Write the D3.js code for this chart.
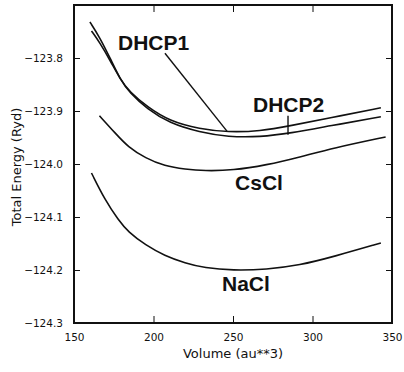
<!DOCTYPE html>
<html>
<head>
<meta charset="utf-8">
<script src="https://cdn.jsdelivr.net/npm/d3@7"></script>
<style>
  body { margin: 0; background: #fff; }
  .axis text { font-family: "DejaVu Sans", sans-serif; fill: #111; }
  .axis line, .axis path { stroke: #111; }
</style>
</head>
<body>
<div id="chart"></div>
<script>
// Curve data: volume (au**3) and total energy (Ryd)
const volDHCP1 = [161, 166, 173, 179, 185, 196, 210, 229, 247, 267, 286, 311, 343];
const engDHCP1 = [-123.749, -123.770, -123.806, -123.840, -123.864, -123.892, -123.919, -123.934, -123.940, -123.938, -123.928, -123.913, -123.894];

const volDHCP2 = [160, 166, 173, 179, 185, 196, 210, 229, 247, 267, 286, 311, 343];
const engDHCP2 = [-123.732, -123.760, -123.802, -123.840, -123.866, -123.896, -123.923, -123.940, -123.949, -123.949, -123.942, -123.928, -123.911];

const volCsCl = [166, 176, 184, 195, 207, 220, 232, 250, 271, 292, 313, 346];
const engCsCl = [-123.909, -123.942, -123.968, -123.989, -124.004, -124.010, -124.013, -124.012, -124.002, -123.987, -123.970, -123.949];

const volNaCl = [161, 169.5, 178, 184, 195, 207, 220, 232, 250, 271, 292, 313, 343];
const engNaCl = [-124.017, -124.068, -124.106, -124.128, -124.153, -124.173, -124.187, -124.196, -124.201, -124.199, -124.191, -124.175, -124.149];

const xTicks = [150, 200, 250, 300, 350];
const yTicks = [-123.8, -123.9, -124.0, -124.1, -124.2, -124.3];

// Chart dimensions
const width = 404, height = 372;
const margin = {top: 5, right: 12, bottom: 49, left: 74};

const svg = d3.select("#chart").append("svg")
    .attr("width", width)
    .attr("height", height);

const x = d3.scaleLinear()
    .domain([150, 350])
    .range([margin.left, width - margin.right]);
const y = d3.scaleLinear()
    .domain([-124.3, -123.7])
    .range([height - margin.bottom, margin.top]);

const fmt = d => "\u2212" + Math.abs(d).toFixed(1);

// axes, all ticks pointing into the plot
svg.append("g")
    .attr("class", "axis")
    .attr("transform", "translate(0," + (height - margin.bottom) + ")")
    .call(d3.axisBottom(x).tickValues(xTicks).tickSize(-7).tickPadding(11))
    .call(g => g.selectAll("text").attr("font-size", 10.5));
svg.append("g")
    .attr("class", "axis")
    .attr("transform", "translate(0," + margin.top + ")")
    .call(d3.axisTop(x).tickValues(xTicks).tickSize(-7).tickFormat(""));
svg.append("g")
    .attr("class", "axis")
    .attr("transform", "translate(" + margin.left + ",0)")
    .call(d3.axisLeft(y).tickValues(yTicks).tickSize(-6).tickPadding(11).tickFormat(fmt))
    .call(g => g.selectAll("text")
        .attr("font-family", "'Liberation Sans', Arial, sans-serif")
        .attr("font-size", 10.5));
svg.append("g")
    .attr("class", "axis")
    .attr("transform", "translate(" + (width - margin.right) + ",0)")
    .call(d3.axisRight(y).tickValues(yTicks).tickSize(-6).tickFormat(""));

// heavy frame
svg.append("rect")
    .attr("x", x(150))
    .attr("y", y(-123.7))
    .attr("width", x(350) - x(150))
    .attr("height", y(-124.3) - y(-123.7))
    .attr("fill", "none")
    .attr("stroke", "#111")
    .attr("stroke-width", 2);

// axis titles
svg.append("text")
    .attr("x", (x(150) + x(350)) / 2)
    .attr("y", 358)
    .attr("text-anchor", "middle")
    .attr("font-family", "'DejaVu Sans', sans-serif")
    .attr("font-size", 13)
    .attr("fill", "#111")
    .text("Volume (au**3)");
svg.append("text")
    .attr("transform", "translate(21," + (y(-124.0) + 3) + ") rotate(-90)")
    .attr("text-anchor", "middle")
    .attr("font-family", "'DejaVu Sans', sans-serif")
    .attr("font-size", 13)
    .attr("fill", "#111")
    .text("Total Energy (Ryd)");

// energy curves
const curves = [
    {vol: volDHCP1, eng: engDHCP1},
    {vol: volDHCP2, eng: engDHCP2},
    {vol: volCsCl, eng: engCsCl},
    {vol: volNaCl, eng: engNaCl}
];
const line = d3.line()
    .x(d => x(d[0]))
    .y(d => y(d[1]))
    .curve(d3.curveBasis);

svg.selectAll(".curve")
    .data(curves)
    .enter().append("path")
    .attr("class", "curve")
    .attr("fill", "none")
    .attr("stroke", "#111")
    .attr("stroke-width", 1.6)
    .attr("d", c => line(c.vol.map((v, i) => [v, c.eng[i]])));

// curve labels and pointer lines
const labelNames = ["DHCP1", "DHCP2", "CsCl", "NaCl"];
const labelVol = [177.7, 262.6, 251.3, 243.1];
const labelEng = [-123.785, -123.902, -124.049, -124.240];

svg.selectAll(".lbl")
    .data(labelNames)
    .enter().append("text")
    .attr("class", "lbl")
    .attr("x", (d, i) => x(labelVol[i]))
    .attr("y", (d, i) => y(labelEng[i]))
    .attr("font-family", "'Liberation Sans', Arial, sans-serif")
    .attr("font-weight", "bold")
    .attr("font-size", 21)
    .attr("fill", "#111")
    .text(d => d);

const pointers = [
    [[207.2, -123.791], [246.2, -123.938]],
    [[284.6, -123.909], [284.6, -123.945]]
];
svg.selectAll(".ptr")
    .data(pointers)
    .enter().append("line")
    .attr("class", "ptr")
    .attr("x1", p => x(p[0][0]))
    .attr("y1", p => y(p[0][1]))
    .attr("x2", p => x(p[1][0]))
    .attr("y2", p => y(p[1][1]))
    .attr("stroke", "#111")
    .attr("stroke-width", 1.4);
</script>
</body>
</html>
